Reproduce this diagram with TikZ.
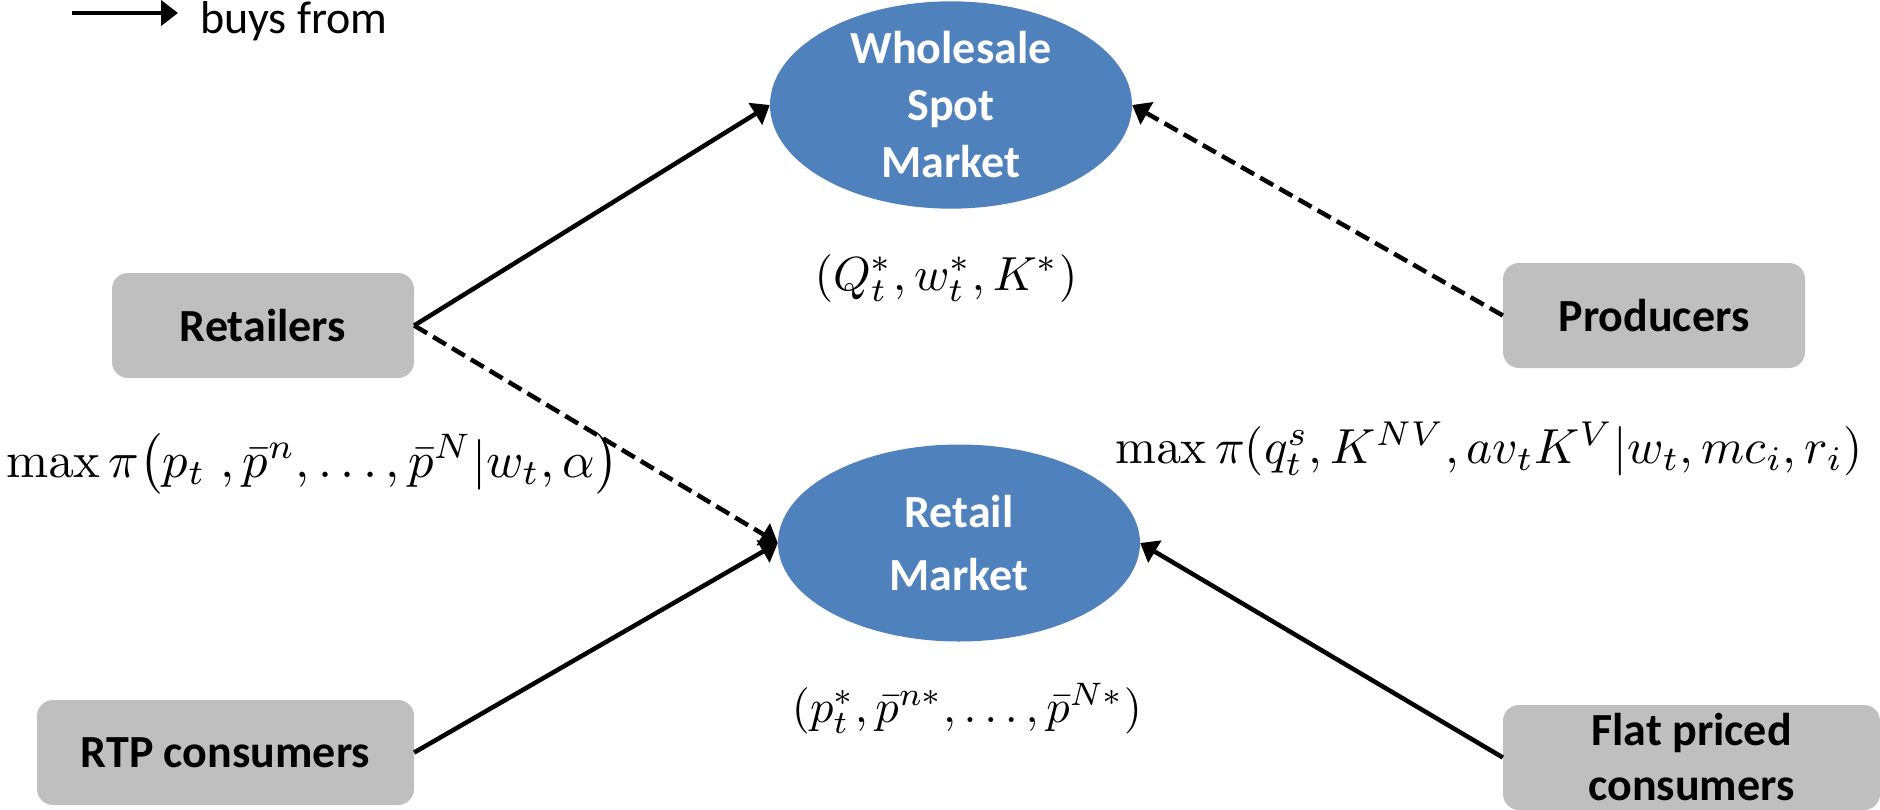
\documentclass[tikz,border=0pt]{standalone}
\usepackage[no-math]{fontspec}
\usepackage{graphicx}
\setmainfont{Carlito}
\usetikzlibrary{arrows.meta,shapes.geometric}
\definecolor{marketblue}{HTML}{4F81BD}
\definecolor{agentgray}{HTML}{BFBFBF}
% a formula set at a given width
\newcommand{\eqwidth}[2]{\resizebox{#1}{!}{$#2$}}

\begin{document}
\begin{tikzpicture}[x=1pt,y=-1pt,
  agent/.style={fill=agentgray, rounded corners=16pt, minimum height=105pt,
    inner sep=0pt, align=center, font=\fontsize{46}{55}\selectfont\bfseries},
  market/.style={ellipse, fill=marketblue, minimum width=362pt, minimum height=197pt,
    inner sep=0pt, text=white, align=center},
  buys/.style={line width=4.5pt, -{Triangle[length=17pt,width=25pt]}},
  dashedbuys/.style={buys, dash pattern=on 15pt off 7pt},
  eq/.style={inner sep=0pt, font=\normalsize},
]
\clip (0,0) rectangle (1880,809);
\fill[white] (0,0) rectangle (1880,809);

% legend
\coordinate (legA) at (72,13);
\coordinate (legB) at (178,13);
\draw[buys] (legA) -- (legB);
\node[anchor=base west, inner sep=0pt, font=\fontsize{46}{55}\selectfont] (legtext) at (200,33) {buys from};

% markets
\node[market, font=\fontsize{46}{57}\selectfont\bfseries] (spot) at (951,105) {Wholesale\\Spot\\Market};
\node[market, font=\fontsize{46}{63}\selectfont\bfseries] (retail) at (959,543) {Retail\\Market};

% agents
\node[agent, minimum width=302pt] (retailers) at (263,325.5) {Retailers};
\node[agent, minimum width=302pt] (producers) at (1654,315.5) {Producers};
\node[agent, minimum width=377pt] (rtp) at (225.5,752.5) {RTP consumers};
\node[agent, minimum width=377pt] (flat) at (1691.5,757.5) {Flat priced\\consumers};

% buying relations
\draw[buys] (retailers.east) -- (spot.west);
\draw[dashedbuys] (retailers.east) -- (retail.west);
\draw[buys] (rtp.east) -- (retail.west);
\draw[dashedbuys] (producers.west) -- (spot.east);
\draw[buys] (flat.west) -- (retail.east);

% equilibria and objectives
\node[eq, anchor=base] (spoteq) at (946,290)
  {\eqwidth{263pt}{(Q_t^{*}, w_t^{*}, K^{*})}};
\node[eq, anchor=base] (retaileq) at (967,722)
  {\eqwidth{350pt}{(p_t^{*}, \bar{p}^{n*}, \ldots, \bar{p}^{N*})}};
\node[eq, anchor=base west] (retobj) at (6,477)
  {\eqwidth{612pt}{\max \pi\bigl(p_t\;, \bar{p}^{n}, \ldots, \bar{p}^{N} \vert w_t, \alpha\bigr)}};
\node[eq, anchor=base west] (prodobj) at (1115,463)
  {\eqwidth{747pt}{\max \pi(q_t^{s}, K^{NV}, av_tK^{V} \vert w_t, mc_i, r_i)}};
\end{tikzpicture}
\end{document}
